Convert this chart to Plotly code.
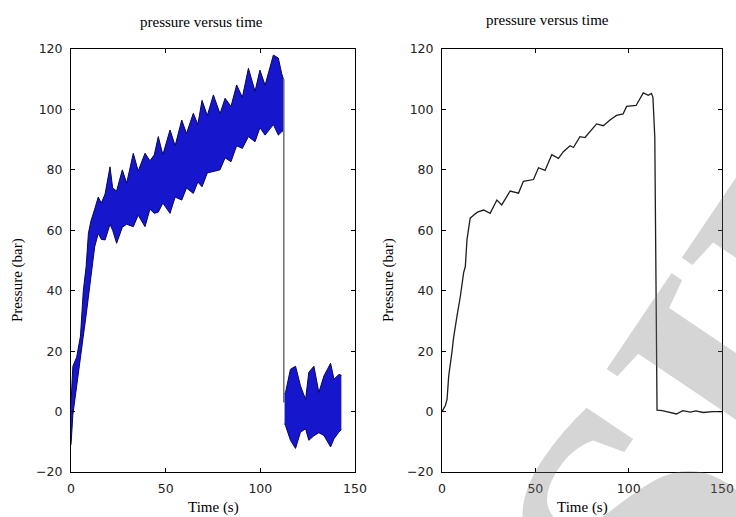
import plotly.graph_objects as go

W, H = 736, 517

# ---------------- data: left panel (raw, noisy signal envelope) ----------------
raw_t = [0, 1, 3, 5, 6.5, 8, 9.2, 10.5, 12.5, 14.4, 16, 18, 20.6, 22, 24.1, 27.1, 29.4,
         32.9, 35.5, 39.1, 41.7, 44, 46.1, 48.5, 52.3, 55, 58.5, 61, 64.6, 67, 69.2, 72,
         75.2, 78.7, 81.4, 84.5, 87.5, 90.5, 93.7, 97.2, 99.8, 102.5, 106.9, 109.5, 111.3, 112.2]
raw_upper = [3, 15, 18, 25, 40, 48, 59, 63, 67, 71, 69, 72, 81, 74, 73, 80, 75.6,
             85.5, 79.6, 85.5, 83, 85, 91, 85, 93.2, 88, 96.5, 92, 98.7, 95, 103, 98,
             104.8, 98.6, 103.7, 101, 108.1, 104, 113.6, 106, 113, 108, 118, 117, 111.8, 110]
raw_lower = [-11, -1, 8.5, 17, 25, 32, 38, 46, 54.5, 59, 57, 56.8, 62, 60, 55.7, 61, 62,
             61.2, 65, 61.2, 67, 65.6, 66, 69, 65.6, 71, 70, 74, 72.2, 76, 74.4, 79,
             79.4, 80, 84, 82.7, 88, 87.1, 91, 89.3, 94, 91.5, 95, 91.5, 92.6, 93]

drop_t = [112.4, 112.4]
drop_v = [110, 3]

post_t = [112.8, 113.3, 115.9, 118.6, 121.2, 123.9, 125.6, 128.3, 130.9, 133.6, 137.1, 138.9, 141.5, 142.8]
post_upper = [6, 6.3, 14, 15, 8.5, 4, 13, 15, 6.3, 11.8, 16, 10.7, 12.3, 12]
post_lower = [-4, -4.6, -9.5, -12.2, -6.8, -5.7, -9.5, -8, -7, -7.9, -11.7, -9, -6.8, -6]

# ---------------- data: right panel (filtered signal) ----------------
filt_t = [0, 1, 1.8, 2.7, 3.6, 5.3, 6.2, 8, 9.8, 11.6, 12.5, 13.4, 15.1, 16.9, 19, 22.3, 25.8,
          29.4, 32, 36.5, 41, 43.6, 49, 51.7, 55.2, 58.8, 62.4, 65, 68.6, 70.4, 73.9, 76.6,
          80, 82.8, 86.4, 90, 93.5, 97, 98.9, 104, 107.8, 110.5, 112.2, 113, 114, 114.6,
          114.8, 115, 115.2, 118, 122, 125.6, 129, 133, 136, 140, 145, 150]
filt_v = [0, 1, 2, 4, 11.8, 19.5, 24.4, 31.5, 38, 46, 48, 57, 64, 65, 66, 66.7, 65.6,
          70, 68.4, 73, 72.3, 76.2, 76.8, 80.7, 79.8, 85, 83.8, 86, 88, 87.4, 91, 90.7,
          93, 95.2, 94.6, 96.5, 98, 98.5, 101, 101.3, 105.5, 104.7, 105.3, 104, 90.7, 45,
          45, 8, 0.5, 0.3, -0.2, -0.8, 0.3, -0.2, 0.2, -0.3, 0, 0]

x_ticks = [0, 50, 100, 150]
y_ticks = [-20, 0, 20, 40, 60, 80, 100, 120]
panel_title = "pressure versus time"
x_title = "Time (s)"
y_title = "Pressure (bar)"

# ---------------- figure ----------------
BLUE = "rgb(22,22,205)"
NAVY = "rgb(5,5,95)"

fig = go.Figure()

# left panel band (main)
fig.add_trace(go.Scatter(x=raw_t, y=raw_lower, mode="lines", line=dict(color=NAVY, width=1),
                         xaxis="x", yaxis="y", showlegend=False, hoverinfo="skip"))
fig.add_trace(go.Scatter(x=raw_t, y=raw_upper, mode="lines", line=dict(color=NAVY, width=1),
                         fill="tonexty", fillcolor=BLUE,
                         xaxis="x", yaxis="y", showlegend=False, hoverinfo="skip"))
# drop
fig.add_trace(go.Scatter(x=drop_t, y=drop_v, mode="lines", line=dict(color="rgb(110,110,110)", width=1.5),
                         xaxis="x", yaxis="y", showlegend=False, hoverinfo="skip"))
# post-drop band
fig.add_trace(go.Scatter(x=post_t, y=post_lower, mode="lines", line=dict(color=NAVY, width=1),
                         xaxis="x", yaxis="y", showlegend=False, hoverinfo="skip"))
fig.add_trace(go.Scatter(x=post_t, y=post_upper, mode="lines", line=dict(color=NAVY, width=1),
                         fill="tonexty", fillcolor=BLUE,
                         xaxis="x", yaxis="y", showlegend=False, hoverinfo="skip"))

# right panel line
fig.add_trace(go.Scatter(x=filt_t, y=filt_v, mode="lines", line=dict(color="rgb(30,30,30)", width=1.3),
                         xaxis="x2", yaxis="y2", showlegend=False, hoverinfo="skip"))

tickfont = dict(family="DejaVu Sans", size=12.5, color="#222")
axis_common = dict(showline=True, linecolor="black", linewidth=1, mirror="ticks",
                   ticks="inside", ticklen=4, tickcolor="black", showgrid=False,
                   zeroline=False, tickfont=tickfont, automargin=False,
                   ticklabelstandoff=5)

fig.update_layout(
    template="none",
    width=W, height=H,
    margin=dict(l=0, r=0, t=0, b=0, autoexpand=False),
    paper_bgcolor="white", plot_bgcolor="white",
    xaxis=dict(domain=[71 / W, 355 / W], range=[0, 150], tickvals=x_ticks, anchor="y", **axis_common),
    yaxis=dict(domain=[1 - 472 / H, 1 - 49 / H], range=[-20, 120], tickvals=y_ticks, anchor="x", **axis_common),
    xaxis2=dict(domain=[442 / W, 722 / W], range=[0, 150], tickvals=x_ticks, anchor="y2", **axis_common),
    yaxis2=dict(domain=[1 - 472 / H, 1 - 49 / H], range=[-20, 120], tickvals=y_ticks, anchor="x2", **axis_common),
)

serif = dict(family="Liberation Serif", size=15, color="black")
ann = []
for cx, ty, tx in [(201, 22, 213), (547, 20, 582)]:
    ann.append(dict(text=panel_title, x=cx / W, y=1 - ty / H, xref="paper", yref="paper",
                    showarrow=False, font=serif, xanchor="center", yanchor="middle"))
    ann.append(dict(text=x_title, x=tx / W, y=1 - 508 / H, xref="paper", yref="paper",
                    showarrow=False, font=serif, xanchor="center", yanchor="middle"))
for yx in [17, 388]:
    ann.append(dict(text=y_title, x=yx / W, y=1 - 280 / H, xref="paper", yref="paper",
                    showarrow=False, font=serif, textangle=-90, xanchor="center", yanchor="middle"))
# watermark
ann.append(dict(text="<b>SID</b>", x=750 / W, y=1 - 360 / H, xref="paper", yref="paper",
                showarrow=False, textangle=-56, opacity=0.3,
                font=dict(family="Liberation Serif", size=360, color="rgb(120,120,120)"),
                xanchor="center", yanchor="middle"))
fig.update_layout(annotations=ann)

fig.write_html(
    "out.html",
    config={"displayModeBar": False},
    post_script="document.body.style.margin='0';document.body.style.overflow='hidden';",
)
